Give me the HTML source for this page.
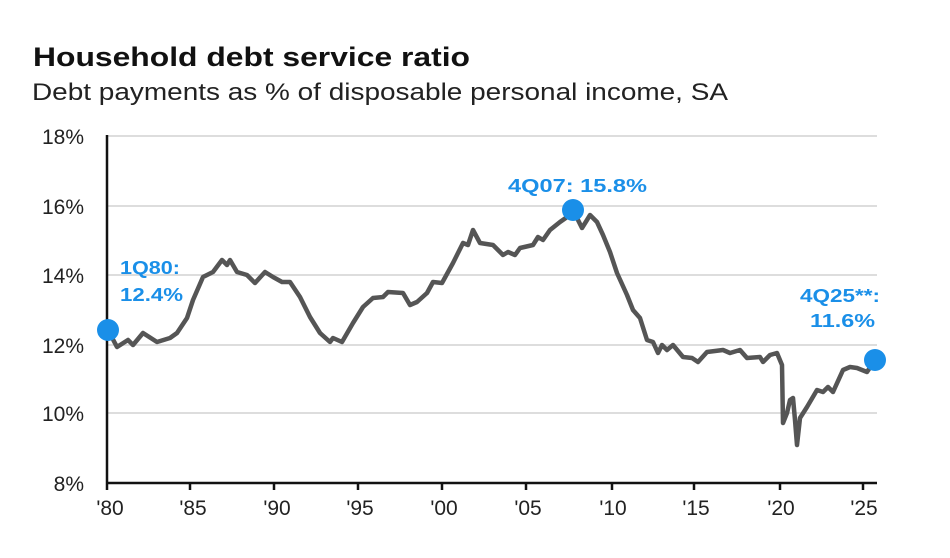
<!DOCTYPE html>
<html><head><meta charset="utf-8"><style>
html,body{margin:0;padding:0;background:#fff;}
svg{display:block;font-family:"Liberation Sans",Arial,sans-serif;}
</style></head><body>
<svg width="950" height="558" viewBox="0 0 950 558" xmlns="http://www.w3.org/2000/svg">
<text x="33" y="66" font-size="27" font-weight="bold" fill="#111" textLength="437" lengthAdjust="spacingAndGlyphs">Household debt service ratio</text>
<text x="32" y="100" font-size="24" fill="#222" textLength="696" lengthAdjust="spacingAndGlyphs">Debt payments as % of disposable personal income, SA</text>
<g stroke="#ddd" stroke-width="2">
<line x1="108" y1="136" x2="877" y2="136"/><line x1="108" y1="206" x2="877" y2="206"/>
<line x1="108" y1="275" x2="877" y2="275"/><line x1="108" y1="345" x2="877" y2="345"/>
<line x1="108" y1="413" x2="877" y2="413"/>
</g>
<g stroke="#111" stroke-width="2.5">
<line x1="107" y1="135" x2="107" y2="490"/><line x1="106" y1="483" x2="877" y2="483"/>
<line x1="190" y1="483" x2="190" y2="490"/><line x1="274" y1="483" x2="274" y2="490"/>
<line x1="358" y1="483" x2="358" y2="490"/><line x1="442" y1="483" x2="442" y2="490"/>
<line x1="526" y1="483" x2="526" y2="490"/><line x1="612" y1="483" x2="612" y2="490"/>
<line x1="694" y1="483" x2="694" y2="490"/><line x1="780" y1="483" x2="780" y2="490"/>
<line x1="863" y1="483" x2="863" y2="490"/>
</g>
<g font-size="21" fill="#222" text-anchor="end">
<text x="84" y="144">18%</text><text x="84" y="214">16%</text><text x="84" y="283">14%</text>
<text x="84" y="353">12%</text><text x="84" y="421">10%</text><text x="84" y="491">8%</text>
</g>
<g font-size="21" fill="#222" text-anchor="middle">
<text x="110" y="515">'80</text><text x="193" y="515">'85</text><text x="277" y="515">'90</text>
<text x="360" y="515">'95</text><text x="444" y="515">'00</text><text x="528" y="515">'05</text>
<text x="613" y="515">'10</text><text x="696" y="515">'15</text><text x="781" y="515">'20</text>
<text x="864" y="515">'25</text>
</g>
<polyline fill="none" stroke="#555" stroke-width="4.5" stroke-linejoin="round" points="108,330 117,347 128,340 133,345 143,333 157,342 170,338 177,333 187,318 193,300 203,277 213,272 222,260 227,265 230,260 237,272 247,275 255,283 265,272 273,277 282,282 290,282 300,297 310,317 320,333 330,342 333,338 342,342 353,323 363,307 373,298 383,297 388,292 403,293 410,305 417,302 427,293 433,282 442,283 453,263 463,243 468,245 473,230 480,243 493,245 503,255 508,252 515,255 520,248 533,245 538,237 543,240 550,230 560,222 570,215 573,210 582,228 587,220 590,215 597,222 603,235 610,252 617,273 627,295 633,310 640,318 647,340 653,342 658,353 662,345 667,350 673,345 683,357 692,358 698,362 707,352 723,350 730,353 740,350 747,358 760,357 763,362 770,355 777,353 782,365 783,423 787,413 790,400 793,398 795,420 797,445 800,418 807,407 817,390 823,392 828,387 833,392 843,370 850,367 857,368 867,372 875,360"/>
<g fill="#1a8fe8">
<circle cx="108" cy="330" r="11"/><circle cx="573" cy="210" r="11"/><circle cx="875" cy="360" r="11"/>
</g>
<g font-size="18" font-weight="bold" fill="#1a8fe8">
<text x="120" y="274" textLength="60" lengthAdjust="spacingAndGlyphs">1Q80:</text>
<text x="120" y="301" textLength="63" lengthAdjust="spacingAndGlyphs">12.4%</text>
<text x="508" y="192" textLength="139" lengthAdjust="spacingAndGlyphs">4Q07:  15.8%</text>
<text x="800" y="302" textLength="80" lengthAdjust="spacingAndGlyphs">4Q25**:</text>
<text x="810" y="327" textLength="65" lengthAdjust="spacingAndGlyphs">11.6%</text>
</g>
</svg>
</body></html>
